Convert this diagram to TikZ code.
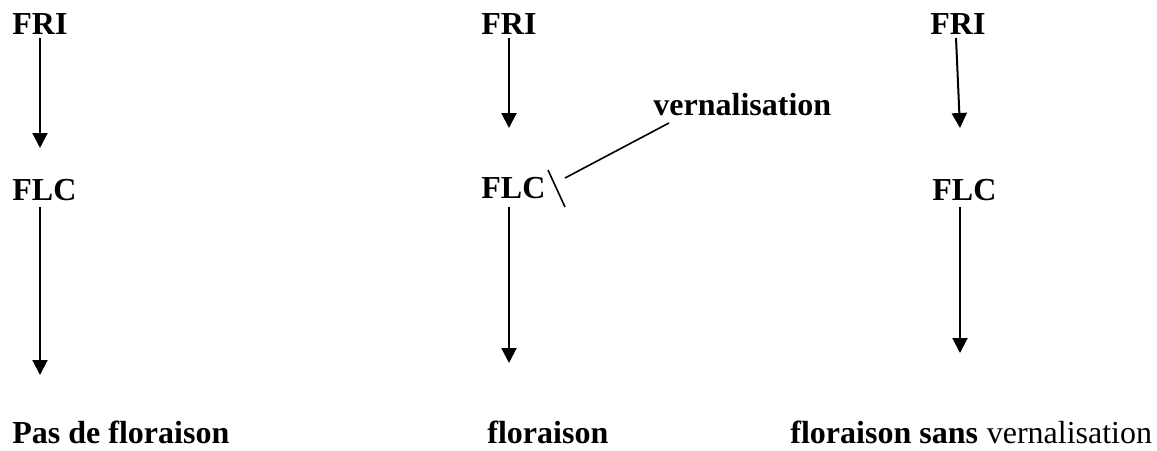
\documentclass[tikz,border=0pt]{standalone}
\usepackage{fontspec}
\setmainfont{Liberation Serif}
\usetikzlibrary{arrows.meta}
\begin{document}
\begin{tikzpicture}[x=0.5pt,y=-0.5pt,
  lbl/.style={inner sep=0pt,anchor=base west,font=\fontsize{16}{19}\selectfont\bfseries},
  plainlbl/.style={inner sep=0pt,anchor=base west,font=\fontsize{16}{19}\selectfont},
  arr/.style={line width=1pt,-{Triangle[width=7.5pt,length=7.5pt]}},
  ln/.style={line width=0.8pt}]
\useasboundingbox (0,0) rectangle (1157,450);
% column 1
\node[lbl] (fri1) at (12,34) {FRI};
\node[lbl] (flc1) at (12,200) {FLC};
\node[lbl] (out1) at (12,443) {Pas de floraison};
\coordinate (a1s) at (40,38);
\coordinate (a1e) at (40,148);
\coordinate (b1s) at (40,207);
\coordinate (b1e) at (40,375);
\draw[arr] (a1s) -- (a1e);
\draw[arr] (b1s) -- (b1e);
% column 2
\node[lbl] (fri2) at (481,34) {FRI};
\node[lbl] (flc2) at (481,198) {FLC};
\node[lbl] (vern) at (653,115) {vernalisation};
\node[lbl] (out2) at (487,443) {floraison};
\coordinate (a2s) at (509,38);
\coordinate (a2e) at (509,128);
\coordinate (b2s) at (509,207);
\coordinate (b2e) at (509,363);
\draw[arr] (a2s) -- (a2e);
\draw[arr] (b2s) -- (b2e);
\coordinate (bar1) at (548,170);
\coordinate (bar2) at (565,207);
\coordinate (vl1) at (565,178);
\coordinate (vl2) at (669,123);
\draw[ln] (bar1) -- (bar2);
\draw[ln] (vl1) -- (vl2);
% column 3
\node[lbl] (fri3) at (930,34) {FRI};
\node[lbl] (flc3) at (932,200) {FLC};
\node[lbl] (out3) at (790,443) {floraison sans};
\node[plainlbl] (out3b) at (out3.base east) {\ vernalisation};
\coordinate (a3s) at (956,38);
\coordinate (a3e) at (960,128);
\coordinate (b3s) at (960,207);
\coordinate (b3e) at (960,353);
\draw[arr] (a3s) -- (a3e);
\draw[arr] (b3s) -- (b3e);
\end{tikzpicture}
\end{document}
